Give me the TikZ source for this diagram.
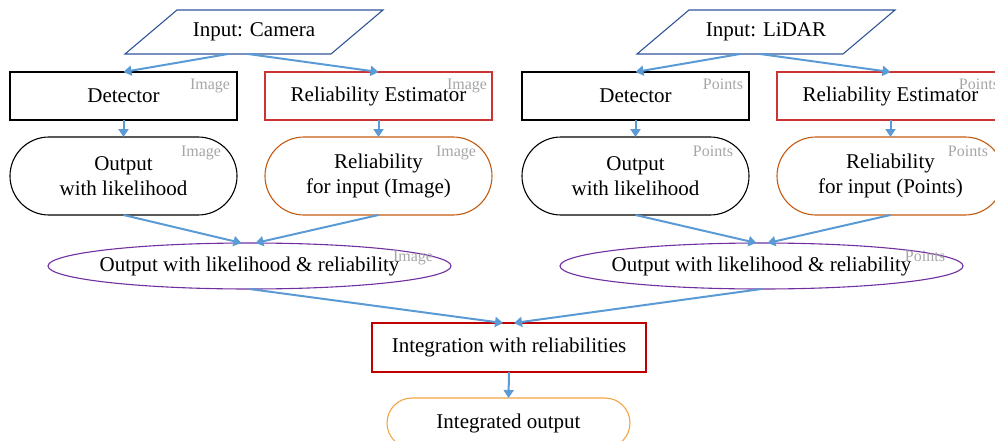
\documentclass[tikz,border=0pt]{standalone}
\usepackage{fontspec}
\setmainfont{Liberation Serif}
\usetikzlibrary{shapes.geometric,arrows.meta,calc}
\definecolor{parablue}{HTML}{2F5597}
\definecolor{arrblue}{HTML}{5B9BD5}
\definecolor{estred}{HTML}{CC3333}
\definecolor{intred}{HTML}{C00000}
\definecolor{relorange}{HTML}{C55A11}
\definecolor{ellpurple}{HTML}{7030A0}
\definecolor{finorange}{HTML}{F4A444}
\definecolor{taggray}{HTML}{A6A6A6}
\begin{document}
\begin{tikzpicture}[x=1pt,y=-1pt,
  every node/.style={outer sep=0pt, inner sep=0pt, align=center, font=\fontsize{21}{25}\selectfont},
  boxbase/.style={draw, line width=1.1pt, minimum width=227pt},
  plainbox/.style={boxbase, draw=black, minimum height=48pt},
  estbox/.style={boxbase, draw=estred, minimum height=48pt},
  outterm/.style={boxbase, draw=black, minimum height=78pt, rounded corners=39pt},
  relterm/.style={boxbase, draw=relorange, minimum height=78pt, rounded corners=39pt},
  fuse/.style={ellipse, draw=ellpurple, line width=1.1pt, minimum width=403pt, minimum height=46pt},
  innode/.style={minimum width=206pt, minimum height=44pt},
  para/.style={draw=parablue, line width=1.1pt},
  tag/.style={font=\fontsize{16}{16}\selectfont, text=taggray, anchor=base east},
  arr/.style={draw=arrblue, line width=2pt, -{Triangle[length=8pt,width=10pt]}}
]
\useasboundingbox (0,0) rectangle (995,441);

% ---- Camera branch
\node[innode] (cam) at (254,32) {Input: Camera};
\draw[para] ($(cam.north west)+(26,0)$) -- ($(cam.north east)+(26,0)$) -- ($(cam.south east)+(-26,0)$) -- ($(cam.south west)+(-26,0)$) -- cycle;
\node[plainbox] (det1) at (123.5,96) {Detector};
\node[estbox] (est1) at (378.5,96) {Reliability Estimator};
\node[outterm] (out1) at (123.5,176) {Output\\with likelihood};
\node[relterm] (rel1) at (378.5,176) {Reliability\\for input (Image)};
\node[fuse] (ell1) at (249.5,266) {\makebox[0pt]{Output with likelihood \& reliability}};

\node[tag] (t1) at ($(det1.north east)+(-7,17.5)$) {Image};
\node[tag] (t2) at ($(est1.north east)+(-5,17.5)$) {Image};
\node[tag] (t3) at ($(out1.north east)+(-16,19.5)$) {Image};
\node[tag] (t4) at ($(rel1.north east)+(-16,19.5)$) {Image};
\node[tag] (t5) at ($(ell1.east)+(-18,-4.5)$) {Image};

% ---- LiDAR branch
\node[innode] (lid) at (766,32) {Input: LiDAR};
\draw[para] ($(lid.north west)+(26,0)$) -- ($(lid.north east)+(26,0)$) -- ($(lid.south east)+(-26,0)$) -- ($(lid.south west)+(-26,0)$) -- cycle;
\node[plainbox] (det2) at (635.5,96) {Detector};
\node[estbox] (est2) at (890.5,96) {Reliability Estimator};
\node[outterm] (out2) at (635.5,176) {Output\\with likelihood};
\node[relterm] (rel2) at (890.5,176) {Reliability\\for input (Points)};
\node[fuse] (ell2) at (761.5,266) {\makebox[0pt]{Output with likelihood \& reliability}};

\node[tag] (p1) at ($(det2.north east)+(-6,17.5)$) {Points};
\node[tag] (p2) at ($(est2.north east)+(-5,17.5)$) {Points};
\node[tag] (p3) at ($(out2.north east)+(-16,20)$) {Points};
\node[tag] (p4) at ($(rel2.north east)+(-16,20)$) {Points};
\node[tag] (p5) at ($(ell2.east)+(-18,-4.5)$) {Points};

% ---- Integration
\node[draw=intred, line width=1.1pt, minimum width=274pt, minimum height=49pt] (integ) at (509,347.5) {Integration with reliabilities};
\node[draw=finorange, line width=1.1pt, minimum width=243pt, minimum height=50pt, rounded corners=25pt] (final) at (508.5,423) {Integrated output};

% ---- Connectors
\draw[arr] ($(cam.south)+(-26,0)$) -- (det1.north);
\draw[arr] ($(cam.south)+(-6,0)$) -- (est1.north);
\draw[arr] (det1.south) -- (out1.north);
\draw[arr] (est1.south) -- (rel1.north);
\draw[arr] (out1.south) -- ($(ell1.north)+(-8,0)$);
\draw[arr] (rel1.south) -- ($(ell1.north)+(6,0)$);

\draw[arr] ($(lid.south)+(-26,0)$) -- (det2.north);
\draw[arr] ($(lid.south)+(-6,0)$) -- (est2.north);
\draw[arr] (det2.south) -- (out2.north);
\draw[arr] (est2.south) -- (rel2.north);
\draw[arr] (out2.south) -- ($(ell2.north)+(-5,0)$);
\draw[arr] (rel2.south) -- ($(ell2.north)+(6,0)$);

\draw[arr] (ell1.south) -- ($(integ.north)+(-6,0)$);
\draw[arr] (ell2.south) -- ($(integ.north)+(5,0)$);
\draw[arr] (integ.south) -- (final.north);
\end{tikzpicture}
\end{document}
